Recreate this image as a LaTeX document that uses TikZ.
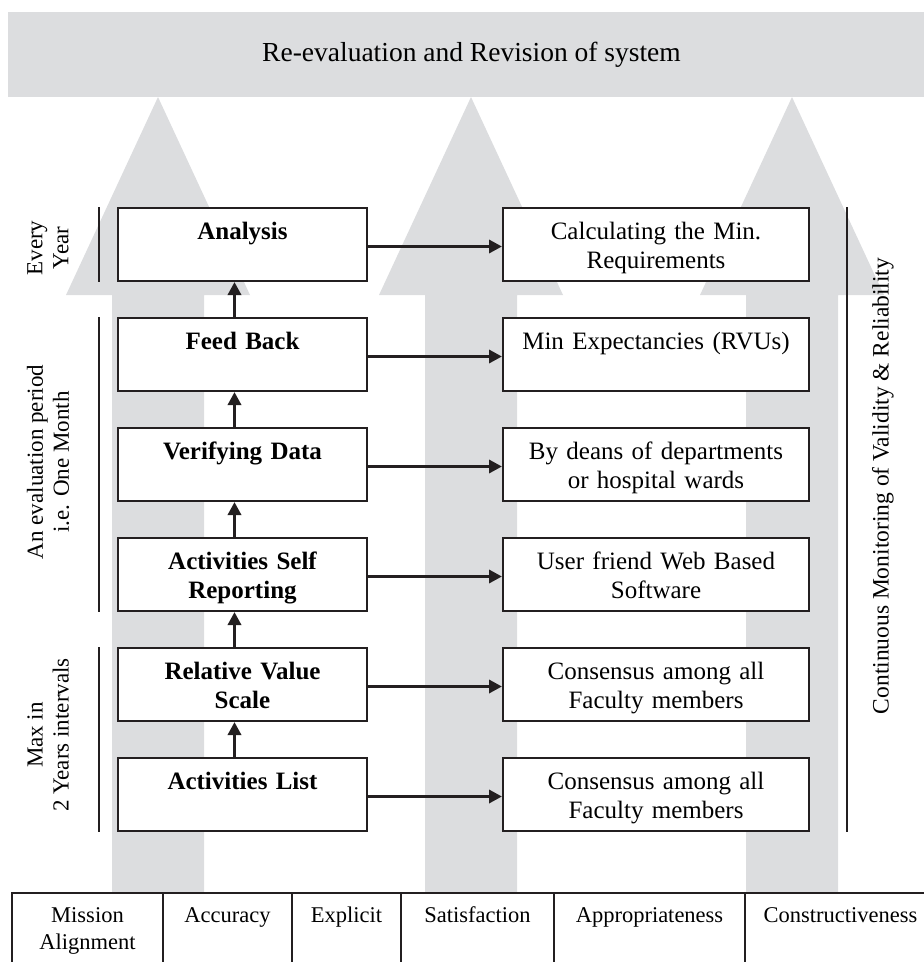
\documentclass[tikz,border=0pt]{standalone}
\usepackage{fontspec}
\setmainfont{Liberation Serif}
\usetikzlibrary{positioning,arrows.meta,calc}
\definecolor{bandgray}{RGB}{220,221,223}
\definecolor{ink}{RGB}{35,31,32}

\tikzset{
  stagebox/.style={draw=ink, line width=2pt, fill=white, inner xsep=0pt, text width=249pt, align=center,
    font=\fontsize{25}{29}\selectfont\bfseries, text height=17pt, text depth=28pt, inner ysep=14pt},
  notebox/.style={stagebox, text width=306pt, font=\fontsize{25}{29}\selectfont},
  cell/.style={draw=ink, line width=2pt, outer sep=0pt, anchor=north west, inner xsep=0pt, align=center,
    font=\fontsize{22.5}{27}\selectfont, text height=17pt, text depth=50pt, inner ysep=12pt},
  flow/.style={draw=ink, line width=3.5pt, -{Triangle[length=13pt,width=13pt]}},
  period/.style={draw=ink, line width=2pt},
  sidelabel/.style={rotate=90, align=center, font=\fontsize{23}{26}\selectfont},
}

\begin{document}
\begin{tikzpicture}[x=1pt, y=-1pt]
    \useasboundingbox (0,0) rectangle (924,962);
    % the three wide gray arrows
    \foreach \c in {158,471,792}
      \fill[bandgray] (\c-46,893) -- (\c-46,295) -- (\c-92,295) -- (\c,97)
        -- (\c+92,295) -- (\c+46,295) -- (\c+46,893) -- cycle;
    \node[fill=bandgray, minimum width=927pt, minimum height=85pt, inner sep=0pt,
      font=\fontsize{27.5}{32}\selectfont] (revise) at (471.5,54.5) {Re-evaluation and Revision of system};

    % stages
    \node[stagebox, anchor=north] (an) at (242.5,207) {Analysis};
    \node[stagebox, below=35pt of an] (fb) {Feed Back};
    \node[stagebox, below=35pt of fb] (vd) {Verifying Data};
    \node[stagebox, below=35pt of vd] (sr) {Activities Self\\Reporting};
    \node[stagebox, below=35pt of sr] (rv) {Relative Value\\Scale};
    \node[stagebox, below=35pt of rv] (al) {Activities List};

    \node[notebox, right=134pt of an] (cm) {Calculating the Min.\\Requirements};
    \node[notebox, right=134pt of fb] (me) {Min Expectancies (RVUs)};
    \node[notebox, right=134pt of vd] (dn) {By deans of departments\\or hospital wards};
    \node[notebox, right=134pt of sr] (ws) {User friend Web Based\\Software};
    \node[notebox, right=134pt of rv] (cf) {Consensus among all\\Faculty members};
    \node[notebox, right=134pt of al] (cl) {Consensus among all\\Faculty members};

    \foreach \s/\n in {an/cm, fb/me, vd/dn, sr/ws, rv/cf, al/cl}
      \draw[flow] ([yshift=-2pt]\s.east) -- ([yshift=-2pt]\n.west);
    \foreach \a/\b in {al/rv, rv/sr, sr/vd, vd/fb, fb/an}
      \draw[flow] ([xshift=-8pt]\a.north) -- ([xshift=-8pt]\b.south);

    % time periods
    \draw[period] ([xshift=-18pt]an.north west) -- ([xshift=-18pt]an.south west);
    \draw[period] ([xshift=-18pt]fb.north west) -- ([xshift=-18pt]sr.south west);
    \draw[period] ([xshift=-18pt]rv.north west) -- ([xshift=-18pt]al.south west);
    \node[sidelabel] (yr) at (48,248) {Every\\Year};
    \node[sidelabel] (mo) at (48,462) {An evaluation period\\i.e. One Month};
    \node[sidelabel] (iv) at (48,735) {Max in\\2 Years intervals};

    \draw[period] ([xshift=37pt]cm.north east) -- ([xshift=37pt]cl.south east);
    \node[sidelabel, font=\fontsize{23.5}{27}\selectfont] (cv) at (883,486) {Continuous Monitoring of Validity \& Reliability};

    % criteria row
    \node[cell, text width=151pt] (c1) at (12,893) {Mission\\Alignment};
    \node[cell, text width=129pt, right=0pt of c1] (c2) {Accuracy};
    \node[cell, text width=109pt, right=0pt of c2] (c3) {Explicit};
    \node[cell, text width=153pt, right=0pt of c3] (c4) {Satisfaction};
    \node[cell, text width=191pt, right=0pt of c4] (c5) {Appropriateness};
    \node[cell, text width=191pt, right=0pt of c5] (c6) {Constructiveness};
\end{tikzpicture}
\end{document}
